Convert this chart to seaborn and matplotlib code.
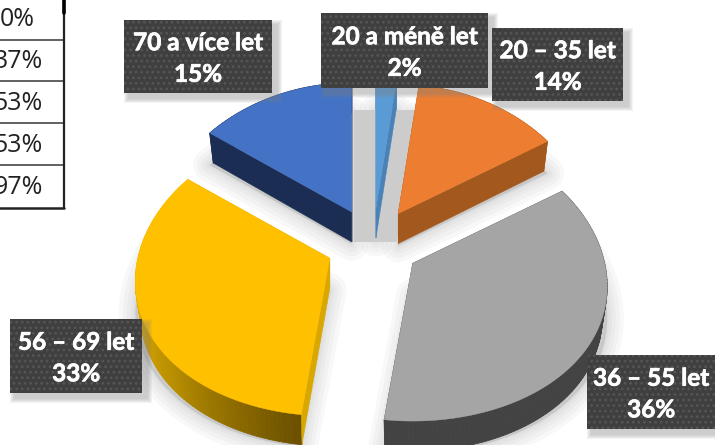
import numpy as np
import matplotlib
matplotlib.use("Agg")
import matplotlib.pyplot as plt
import matplotlib.patheffects as pe
from matplotlib.patches import Rectangle
import seaborn as sns

# values
age_groups = ["20 a méně let", "20 – 35 let", "36 – 55 let", "56 – 69 let", "70 a více let"]
shares = [2, 14, 36, 33, 15]
table_values = ["0%", "37%", "53%", "53%", "97%"]

top_colors = ["#5b9bd5", "#ed7d31", "#a5a5a5", "#ffc000", "#4472c4"]
side_colors = ["#4a82b8", "#a3581d", "#434343", "#d9a800", "#1b2d52"]

# label boxes in pixels: left, top, right, bottom
label_boxes = [(321, 13, 488, 88), (492, 28, 623, 101), (587, 355, 715, 429),
               (10, 319, 142, 393), (124, 20, 272, 93)]
table_lines = [40, 81, 123, 165, 208]
table_text_y = [20, 61, 103, 145, 187]
table_text_x = [35, 43, 43, 43, 43]

# pie projection, pixels
cx, cy = 373, 244
rx, ry = 192, 142
persp_x, persp_y = 0.16, 0.10
explode_x, explode_y = 47, 36
depth = 30
taper = 0.975

sns.set_theme(style="white")
plt.rcParams["hatch.linewidth"] = 1.2

fig = plt.figure(figsize=(7.15, 4.45), dpi=100)
ax = fig.add_axes([0, 0, 1, 1])
ax.set_xlim(0, 715)
ax.set_ylim(445, 0)
ax.axis("off")


def project(apex, theta):
    x, z = np.sin(theta), np.cos(theta)
    return apex[0] + rx * x / (1 + persp_x * z), apex[1] - ry * z / (1 + persp_y * z)


edges = np.radians(np.cumsum([0] + shares) * 3.6)
slices = []
for i, share in enumerate(shares):
    a0, a1 = edges[i], edges[i + 1]
    mid = (a0 + a1) / 2
    apex = (cx + explode_x * np.sin(mid), cy - explode_y * np.cos(mid))
    thetas = np.linspace(a0, a1, max(int(share * 3), 6))
    rim_x, rim_y = project(apex, thetas)
    slices.append((apex, rim_x, rim_y, thetas))

# soft shadows under the slices
for apex, rim_x, rim_y, _ in slices:
    xs = np.r_[apex[0], rim_x]
    ys = np.r_[apex[1], rim_y] + depth + 2
    for lw in [24, 18, 12, 7, 3]:
        ax.fill(xs, ys, color="#808080", alpha=0.05, lw=lw, joinstyle="round", zorder=1)

# wide flat shadow seen in the gaps around the thin slice
apex, rim_x, rim_y, _ = slices[0]
gap_shadow = ax.fill(np.r_[apex[0], rim_x], np.r_[apex[1], rim_y] + 24, color="#cccccc", lw=32,
                     joinstyle="miter", zorder=2)[0]
gap_shadow.set_clip_path(Rectangle((345, 110), 75, 132, transform=ax.transData))

# back to front
for i in [4, 0, 1, 3, 2]:
    apex, rim_x, rim_y, thetas = slices[i]
    n = len(thetas)
    low_x = apex[0] + (rim_x - apex[0]) * taper
    low_y = rim_y + depth
    # curved side
    if i == 3:
        shade = sns.blend_palette(["#6b5000", "#b88e00", "#f0b400", "#ffc000"], n)
    else:
        shade = [side_colors[i]] * n
    for j in range(n - 1):
        ax.fill([rim_x[j], rim_x[j + 1], low_x[j + 1], low_x[j]],
                [rim_y[j], rim_y[j + 1], low_y[j + 1], low_y[j]],
                color=shade[j], lw=0.6, zorder=3 + i * 0.1)
    # cut faces
    for k in [0, -1]:
        ax.fill([apex[0], rim_x[k], low_x[k], apex[0]],
                [apex[1], rim_y[k], low_y[k], apex[1] + depth],
                color=side_colors[i], lw=0.3, zorder=3 + i * 0.1)
    ax.fill(np.r_[apex[0], rim_x], np.r_[apex[1], rim_y], color=top_colors[i], lw=0.3, zorder=4)

# labels
for group, share, box in zip(age_groups, shares, label_boxes):
    x0, y0, x1, y1 = box
    for grow in [10, 8, 6, 4, 2]:
        ax.add_patch(Rectangle((x0 + 5 - grow / 2, y0 + 5 - grow / 2), x1 - x0 + grow, y1 - y0 + grow,
                               color="#808080", alpha=0.09, lw=0, zorder=5))
    ax.add_patch(Rectangle((x0, y0), x1 - x0, y1 - y0, facecolor="#3f3f3f", edgecolor="#555555",
                           hatch="...", lw=0, zorder=6))
    ax.text((x0 + x1) / 2, (y0 + y1) / 2 + 2, f"{group}\n{share}%", color="white", fontsize=17.5,
            fontfamily="Lato", fontweight="bold", ha="center", va="center", linespacing=1.45, zorder=7,
            path_effects=[pe.withStroke(linewidth=0.5, foreground="white")])

# cropped table on the left
for y in table_lines[:-1]:
    ax.plot([0, 63], [y, y], color="#555555", lw=1.3, zorder=8)
ax.plot([0, 64], [table_lines[-1]] * 2, color="#222222", lw=1.8, zorder=8)
ax.plot([63.5, 63.5], [0, table_lines[-1]], color="#222222", lw=1.6, zorder=8)
ax.plot([63.5, 63.5], [0, 13], color="black", lw=2.6, zorder=8)
for x, y, value in zip(table_text_x, table_text_y, table_values):
    ax.text(x, y, value, color="#222222", fontsize=18, fontfamily="Open Sans",
            ha="right", va="center", zorder=9)

fig.savefig("out.png", dpi=100)
